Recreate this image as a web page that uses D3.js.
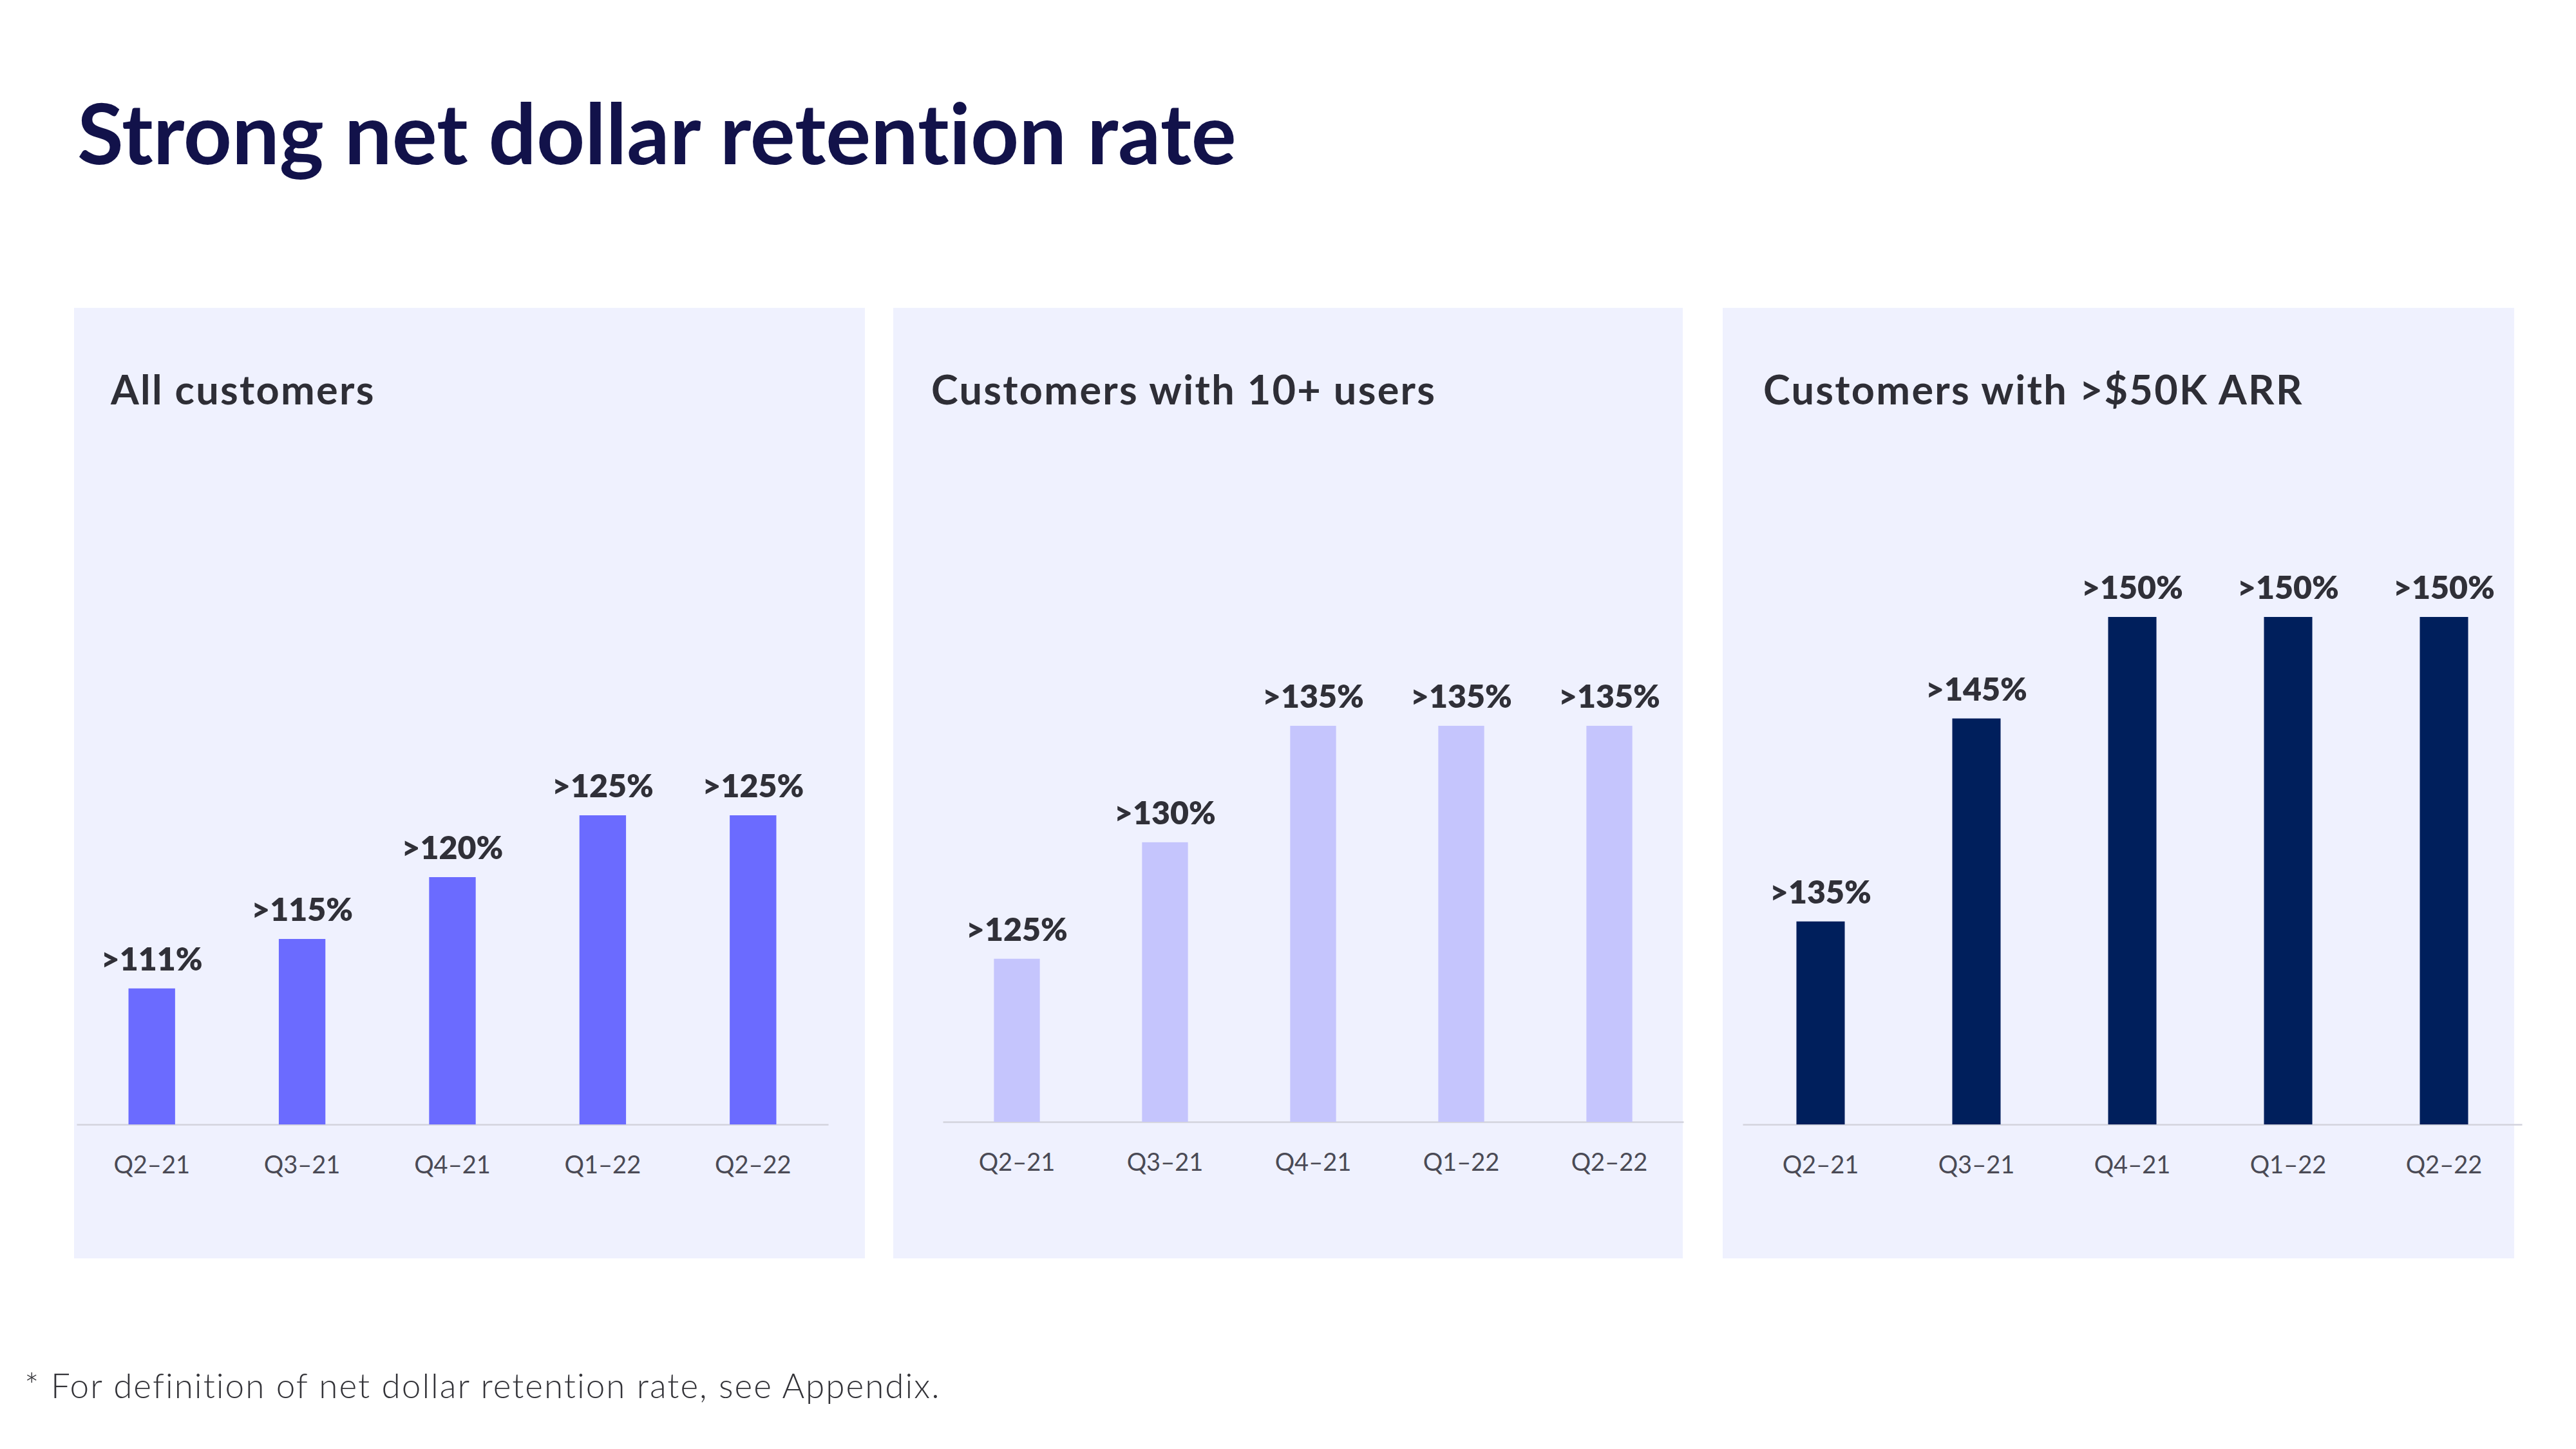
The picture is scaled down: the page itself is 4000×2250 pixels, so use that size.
<!DOCTYPE html>
<html>
<head>
<meta charset="utf-8">
<script src="https://cdn.jsdelivr.net/npm/d3@7"></script>
<style>
  html, body { margin: 0; padding: 0; background: #ffffff; }
  svg { display: block; }
  text { font-variant-ligatures: none; font-feature-settings: "liga" 0, "clig" 0; }
</style>
</head>
<body>
<svg id="chart" width="4000" height="2250"></svg>
<script>
// ---- Data ----
const categories = ["Q2–21", "Q3–21", "Q4–21", "Q1–22", "Q2–22"];
const panelTitles = ["All customers", "Customers with 10+ users", "Customers with >$50K ARR"];
const allCustomers = [111, 115, 120, 125, 125];
const tenPlusUsers = [125, 130, 135, 135, 135];
const over50kARR = [135, 145, 150, 150, 150];
const seriesList = [allCustomers, tenPlusUsers, over50kARR];
const yDomains = [[100, 125], [118, 135], [125, 150]];
const chartTitle = "Strong net dollar retention rate";
const footnote = "* For definition of net dollar retention rate, see Appendix.";

// ---- Layout / style ----
const barColors = ["#6b6bff", "#c5c5fd", "#001f5c"];
const panels = [
  { x: 115,  w: 1228, axis: [119, 1286],  base: 1746, top: 1266, tx: 172 },
  { x: 1387, w: 1226, axis: [1464, 2614], base: 1742, top: 1127, tx: 1446 },
  { x: 2675, w: 1229, axis: [2706, 3916], base: 1746, top: 958,  tx: 2738 }
];
const panelY = 478, panelH = 1476;

const svg = d3.select("#chart");
svg.append("rect").attr("width", 4000).attr("height", 2250).attr("fill", "#ffffff");

svg.append("text")
  .attr("x", 120).attr("y", 255)
  .attr("font-family", "Lato, 'Open Sans', sans-serif")
  .attr("font-weight", 700)
  .attr("font-size", 131)
  .attr("fill", "#12124a")
  .text(chartTitle);

panels.forEach((p, i) => {
  const g = svg.append("g");
  g.append("rect")
    .attr("x", p.x).attr("y", panelY)
    .attr("width", p.w).attr("height", panelH)
    .attr("fill", "#eff1fe");

  g.append("text")
    .attr("x", p.tx).attr("y", 628)
    .attr("font-family", "Lato, 'Open Sans', sans-serif")
    .attr("font-weight", 700)
    .attr("font-size", 63)
    .attr("letter-spacing", 2.3)
    .attr("fill", "#2e2e36")
    .text(panelTitles[i]);

  const x = d3.scaleBand()
    .domain(categories)
    .range(p.axis)
    .paddingInner(0.69)
    .paddingOuter(0.345);

  const y = d3.scaleLinear()
    .domain(yDomains[i])
    .range([p.base, p.top]);

  const axis = g.append("g")
    .attr("transform", `translate(0,${p.base})`)
    .call(d3.axisBottom(x).tickSize(0).tickSizeOuter(0).tickPadding(49));
  axis.select(".domain")
    .attr("stroke", "#d3d3dd")
    .attr("stroke-width", 2.5);
  axis.selectAll(".tick text")
    .attr("font-family", "Lato, 'Open Sans', sans-serif")
    .attr("font-weight", 400)
    .attr("font-size", 38)
    .attr("fill", "#4a4a55");

  const data = categories.map((c, k) => ({ c, v: seriesList[i][k] }));

  g.selectAll("rect.bar")
    .data(data)
    .join("rect")
    .attr("class", "bar")
    .attr("x", d => x(d.c))
    .attr("width", x.bandwidth())
    .attr("y", d => y(d.v))
    .attr("height", d => p.base - y(d.v))
    .attr("fill", barColors[i]);

  g.selectAll("text.val")
    .data(data)
    .join("text")
    .attr("class", "val")
    .attr("x", d => x(d.c) + x.bandwidth() / 2)
    .attr("y", d => y(d.v) - 28)
    .attr("text-anchor", "middle")
    .attr("font-family", "Lato, 'Open Sans', sans-serif")
    .attr("font-weight", 800)
    .attr("font-size", 50)
    .attr("fill", "#303038")
    .text(d => ">" + d.v + "%");
});

svg.append("text")
  .attr("x", 38).attr("y", 2171)
  .attr("font-family", "Lato, 'Open Sans', sans-serif")
  .attr("font-weight", 300)
  .attr("font-size", 53)
  .attr("letter-spacing", 2)
  .attr("fill", "#333338")
  .text(footnote);
</script>
</body>
</html>
